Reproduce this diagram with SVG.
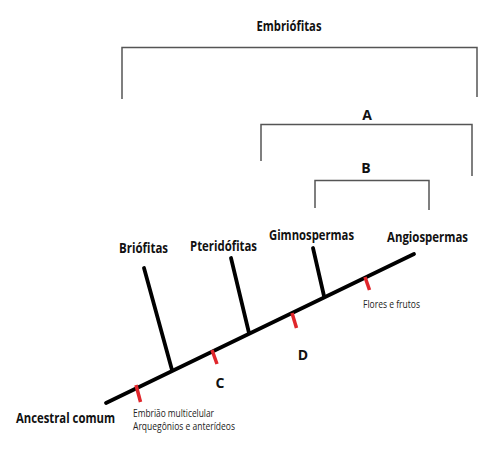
<svg xmlns="http://www.w3.org/2000/svg" width="488" height="450" viewBox="0 0 488 450">
<style>
.br{fill:none;stroke:#555;stroke-width:1.5}
.t{font-family:"Open Sans","Liberation Sans",sans-serif;font-weight:bold;font-size:14px;fill:#111}
.s{font-family:"Open Sans","Liberation Sans",sans-serif;font-size:10.5px;fill:#222}
.stem{stroke:#000;stroke-width:3.8;stroke-linecap:round}
.tick{stroke:#e0262b;stroke-width:3.5}
</style>
<rect width="488" height="450" fill="#fff"/>
<g id="bracket-embriofitas">
<text class="t" x="289" y="31" text-anchor="middle" textLength="65" lengthAdjust="spacingAndGlyphs">Embriófitas</text>
<path class="br" d="M122,99 V47.5 H477 V97"/>
</g>
<g id="bracket-A">
<text class="t" x="367" y="120" text-anchor="middle">A</text>
<path class="br" d="M261,161 V124.5 H472 V176"/>
</g>
<g id="bracket-B">
<text class="t" x="366" y="173" text-anchor="middle">B</text>
<path class="br" d="M315,208 V180.5 H429 V210"/>
</g>
<g id="connectors">
<line class="stem" x1="106" y1="403" x2="414" y2="254"/>
<line class="stem" x1="144" y1="268" x2="172" y2="370"/>
<line class="stem" x1="231" y1="258" x2="249" y2="333"/>
<line class="stem" x1="313" y1="248" x2="324" y2="296"/>
<line class="tick" x1="136" y1="385" x2="140.5" y2="402"/>
<line class="tick" x1="212" y1="350" x2="217" y2="364"/>
<line class="tick" x1="292" y1="313" x2="296.5" y2="328"/>
<line class="tick" x1="365" y1="277" x2="369.5" y2="290"/>
</g>
<g id="node-briofitas"><text class="t" x="119" y="253" textLength="49" lengthAdjust="spacingAndGlyphs">Briófitas</text></g>
<g id="node-pteridofitas"><text class="t" x="190" y="251" textLength="67" lengthAdjust="spacingAndGlyphs">Pteridófitas</text></g>
<g id="node-gimnospermas"><text class="t" x="269" y="240" textLength="85" lengthAdjust="spacingAndGlyphs">Gimnospermas</text></g>
<g id="node-angiospermas"><text class="t" x="387" y="242" textLength="81" lengthAdjust="spacingAndGlyphs">Angiospermas</text></g>
<g id="label-C"><text class="t" x="220" y="388" text-anchor="middle">C</text></g>
<g id="label-D"><text class="t" x="303" y="360" text-anchor="middle">D</text></g>
<g id="label-flores"><text class="s" x="363" y="308" textLength="57" lengthAdjust="spacingAndGlyphs">Flores e frutos</text></g>
<g id="node-ancestral"><text class="t" x="16" y="423" textLength="99" lengthAdjust="spacingAndGlyphs">Ancestral comum</text></g>
<g id="label-embriao">
<text class="s" x="133" y="417" textLength="81" lengthAdjust="spacingAndGlyphs">Embrião multicelular</text>
<text class="s" x="133" y="430" textLength="102" lengthAdjust="spacingAndGlyphs">Arquegônios e anterídeos</text>
</g>
</svg>
